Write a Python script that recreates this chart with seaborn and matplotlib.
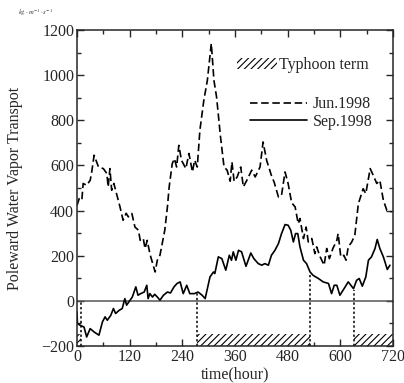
import numpy as np
import pandas as pd
import seaborn as sns

import matplotlib
matplotlib.use('Agg')
import matplotlib.pyplot as plt
from matplotlib.patches import Patch
from matplotlib.lines import Line2D
from matplotlib.ticker import MultipleLocator

# Jun.1998 (dashed)
jun_hours = [0, 5, 11, 14, 22, 30, 33, 39, 49, 60, 68, 71, 75, 79, 84, 90, 98, 105,
             112, 117, 125, 132, 140, 144, 151, 155, 160, 166, 178, 183, 189, 200, 206,
             210, 217, 222, 227, 232, 238, 248, 255, 263, 268, 274, 280, 289, 297, 306,
             312, 318, 327, 335, 342, 349, 353, 358, 365, 373, 379, 387, 398, 406, 417,
             424, 432, 444, 449, 459, 466, 474, 481, 489, 497, 504, 508, 516, 522, 527,
             535, 542, 546, 554, 563, 569, 575, 583, 592, 595, 601, 608, 613, 618, 626,
             633, 641, 652, 658, 668, 675, 683, 690, 698, 706, 717]
jun_vals = [423, 453, 446, 520, 512, 534, 564, 645, 593, 586, 564, 505, 586, 490, 520,
            475, 416, 357, 388, 372, 387, 327, 313, 268, 276, 232, 268, 209, 128, 180,
            202, 313, 416, 505, 608, 630, 593, 689, 623, 586, 653, 571, 623, 593, 756,
            889, 977, 1140, 977, 903, 726, 593, 579, 530, 615, 530, 549, 593, 505, 534,
            579, 549, 593, 704, 623, 549, 527, 460, 468, 571, 520, 435, 416, 342, 365,
            276, 327, 261, 276, 209, 239, 195, 158, 232, 187, 232, 268, 298, 195, 202,
            180, 239, 261, 291, 430, 497, 475, 586, 556, 520, 534, 446, 401, 394]

# Sep.1998 (solid)
sep_hours = [0, 1, 7, 16, 22, 30, 39, 50, 58, 64, 69, 77, 83, 88, 96, 103, 109, 113,
             121, 126, 134, 139, 145, 153, 159, 162, 166, 172, 177, 183, 189, 197, 206,
             213, 221, 228, 235, 242, 250, 257, 267, 276, 285, 292, 303, 311, 314, 322,
             330, 339, 347, 352, 356, 362, 368, 375, 385, 396, 403, 413, 421, 428, 436,
             443, 451, 459, 466, 474, 481, 487, 493, 498, 503, 508, 516, 523, 531, 538,
             550, 561, 573, 580, 586, 592, 599, 611, 618, 630, 637, 643, 650, 658, 664,
             671, 679, 684, 690, 698, 707, 713]
sep_vals = [-50, -100, -108, -116, -160, -123, -138, -152, -93, -71, -86, -64, -34, -56,
            -42, -34, 10, -19, 3, 17, 62, 25, 32, 39, 69, 10, 32, 17, 29, 17, 3, 25, 39,
            35, 62, 77, 84, 32, 69, 32, 32, 39, 25, 10, 106, 128, 121, 195, 187, 136, 202,
            180, 217, 180, 224, 217, 153, 212, 187, 165, 158, 165, 158, 202, 224, 254,
            298, 338, 335, 313, 261, 298, 298, 239, 180, 165, 128, 113, 99, 84, 77, 32,
            69, 69, 25, 62, 84, 54, 91, 99, 65, 106, 180, 195, 232, 272, 232, 195, 139, 158]

# typhoon terms (hours) and dotted marker tops
typhoon_start = [0, 274, 630]
typhoon_end = [8, 531, 720]
marker_hours = [8, 274, 531, 630]
marker_tops = [0, 35, 121, 47]

sns.set_style('ticks')
plt.rcParams['font.family'] = ['Liberation Serif', 'DejaVu Serif']
plt.rcParams['mathtext.fontset'] = 'stix'
plt.rcParams['hatch.linewidth'] = 0.8
plt.rcParams['xtick.direction'] = 'in'
plt.rcParams['ytick.direction'] = 'in'

fig = plt.figure(figsize=(4.04, 3.83), dpi=100)
ax = fig.add_axes([0.1906, 0.0966, 0.7822, 0.8251])

jun = pd.DataFrame({'hour': jun_hours, 'value': jun_vals})
sep = pd.DataFrame({'hour': sep_hours, 'value': sep_vals})

ax.axhline(0, color='#555555', lw=1.1, zorder=1)

sns.lineplot(data=jun, x='hour', y='value', ax=ax, color='black', lw=1.2,
             linestyle=(0, (4.5, 2.2)), estimator=None, sort=False)
sns.lineplot(data=sep, x='hour', y='value', ax=ax, color='black', lw=1.2,
             estimator=None, sort=False)

band_lo, band_hi = -200, -145
for s, e in zip(typhoon_start, typhoon_end):
    ax.fill_between([s, e], band_lo, band_hi, facecolor='white',
                    edgecolor='black', hatch='/////', lw=0, zorder=2)
for h, t in zip(marker_hours, marker_tops):
    ax.plot([h, h], [band_lo, t], color='black', lw=1.1, linestyle=(0, (1.5, 1.5)),
            zorder=2)

ax.set_xlim(0, 720)
ax.set_ylim(-200, 1200)
ax.xaxis.set_major_locator(MultipleLocator(120))
ax.xaxis.set_minor_locator(MultipleLocator(60))
ax.yaxis.set_major_locator(MultipleLocator(200))
ax.yaxis.set_minor_locator(MultipleLocator(100))
ax.tick_params(which='both', top=True, right=True, labelsize=11.5, width=1.0, pad=2)
ax.tick_params(which='major', length=5)
ax.tick_params(which='minor', length=3)
for sp in ax.spines.values():
    sp.set_linewidth(1.1)

ax.set_xlabel('time(hour)', fontsize=11.5, labelpad=1.5)
ax.set_ylabel('Poleward Water Vapor Transpot', fontsize=11.5, labelpad=13)
fig.text(0.045, 0.962, r'$kg\cdot m^{-1}\cdot s^{-1}$', fontsize=4.8,
         color='#333333', style='italic')

leg1 = ax.legend(handles=[Patch(facecolor='white', edgecolor='black', hatch='/////', lw=0)],
                 labels=['Typhoon term'], loc='upper right', bbox_to_anchor=(0.945, 0.935),
                 frameon=False, fontsize=11.5, handlelength=2.5, handletextpad=0.15,
                 borderaxespad=0)
ax.add_artist(leg1)
ax.legend(handles=[Line2D([], [], color='black', lw=1.2, linestyle=(0, (4.5, 2.2))),
                   Line2D([], [], color='black', lw=1.2)],
          labels=['Jun.1998', 'Sep.1998'], loc='upper right', bbox_to_anchor=(0.955, 0.81),
          frameon=False, fontsize=11.5, handlelength=3.6, handletextpad=0.35,
          labelspacing=0.1, borderaxespad=0)

plt.savefig('out.png', dpi=100)
